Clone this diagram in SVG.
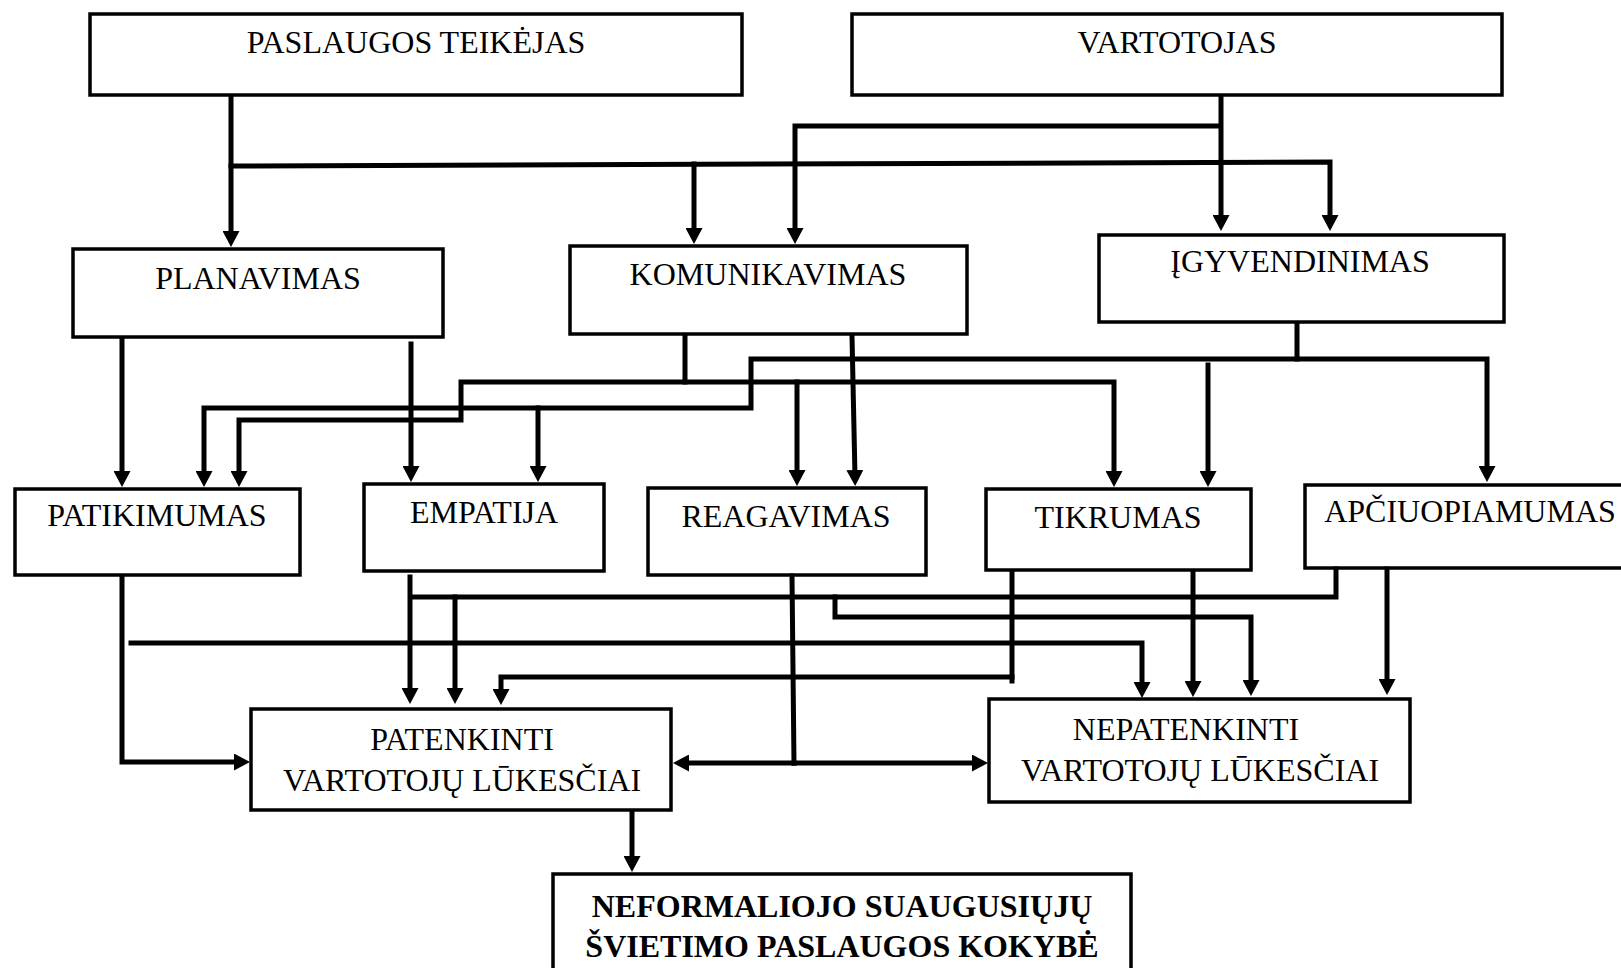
<svg xmlns="http://www.w3.org/2000/svg" width="1621" height="968" viewBox="0 0 1621 968">
<style>
.box{fill:#fff;stroke:#000;stroke-width:3.5}
.t{font-family:"Liberation Serif","Times New Roman",serif;font-size:32px;fill:#000;text-anchor:middle}
.b{font-weight:bold}
.c{fill:none;stroke:#000;stroke-width:5;stroke-linejoin:miter;stroke-linecap:square}
.a{marker-end:url(#ah)}
</style>
<defs>
<marker id="ah" viewBox="0 0 16 17" refX="6" refY="8.5" markerWidth="16" markerHeight="17" markerUnits="userSpaceOnUse" orient="auto">
<path d="M0,0 L16,8.5 L0,17 Z" fill="#000"/>
</marker>
</defs>
<rect width="1621" height="968" fill="#fff"/>
<g id="paslaugos"><rect class="box" x="90" y="14" width="652" height="81"/><text class="t" x="416" y="53">PASLAUGOS TEIKĖJAS</text></g>
<g id="vartotojas"><rect class="box" x="852" y="14" width="650" height="81"/><text class="t" x="1177" y="53">VARTOTOJAS</text></g>
<g id="planavimas"><rect class="box" x="73" y="249" width="370" height="88"/><text class="t" x="258" y="289">PLANAVIMAS</text></g>
<g id="komunikavimas"><rect class="box" x="570" y="246" width="397" height="88"/><text class="t" x="768" y="285">KOMUNIKAVIMAS</text></g>
<g id="igyvendinimas"><rect class="box" x="1099" y="235" width="405" height="87"/><text class="t" x="1300" y="272">ĮGYVENDINIMAS</text></g>
<g id="patikimumas"><rect class="box" x="15" y="489" width="285" height="86"/><text class="t" x="157" y="526">PATIKIMUMAS</text></g>
<g id="empatija"><rect class="box" x="364" y="484" width="240" height="87"/><text class="t" x="484" y="523">EMPATIJA</text></g>
<g id="reagavimas"><rect class="box" x="648" y="488" width="278" height="87"/><text class="t" x="786" y="527">REAGAVIMAS</text></g>
<g id="tikrumas"><rect class="box" x="986" y="489" width="265" height="81"/><text class="t" x="1118" y="528">TIKRUMAS</text></g>
<g id="apciuopiamumas"><rect class="box" x="1305" y="485" width="330" height="83"/><text class="t" x="1470" y="522">APČIUOPIAMUMAS</text></g>
<g id="patenkinti"><rect class="box" x="251" y="709" width="420" height="101"/><text class="t" x="462" y="750">PATENKINTI</text><text class="t" x="462" y="791">VARTOTOJŲ LŪKESČIAI</text></g>
<g id="nepatenkinti"><rect class="box" x="989" y="699" width="421" height="103"/><text class="t" x="1186" y="740">NEPATENKINTI</text><text class="t" x="1200" y="781">VARTOTOJŲ LŪKESČIAI</text></g>
<g id="kokybe"><rect class="box" x="553" y="874" width="578" height="120"/><text class="t b" x="842" y="917">NEFORMALIOJO SUAUGUSIŲJŲ</text><text class="t b" x="842" y="957">ŠVIETIMO PASLAUGOS KOKYBĖ</text></g>
<g id="connectors">
<path class="c a" d="M231,97 V237"/>
<path class="c a" d="M231,166 L1330,162 V221"/>
<path class="c a" d="M694,164 V234"/>
<path class="c a" d="M1221,97 V221"/>
<path class="c a" d="M1219,126 H795 V234"/>
<path class="c a" d="M122,339 V477"/>
<path class="c a" d="M411,344 V472"/>
<path class="c a" d="M685,336 V382 H461 V420 H239 V477"/>
<path class="c a" d="M685,382 H1114 V477"/>
<path class="c a" d="M797,382 V476"/>
<path class="c a" d="M852,336 L855,476"/>
<path class="c a" d="M1297,324 V359 H1487 V472"/>
<path class="c a" d="M1297,359 H751 V408 H204 V477"/>
<path class="c a" d="M538,408 V472"/>
<path class="c a" d="M1208,365 V477"/>
<path class="c a" d="M122,577 V762 H240"/>
<path class="c a" d="M131,643 H1142 V688"/>
<path class="c a" d="M410,577 V694"/>
<path class="c" d="M1336,569 V597 H413"/>
<path class="c a" d="M835,597 V617 H1251 V686"/>
<path class="c a" d="M455,597 V694"/>
<path class="c" d="M792,576 L794,763"/>
<path class="c a" d="M794,763 H683"/>
<path class="c a" d="M794,763 H978"/>
<path class="c" d="M1012,572 V681"/>
<path class="c a" d="M1012,677 H501 V695"/>
<path class="c a" d="M1193,572 V687"/>
<path class="c a" d="M1387,569 V685"/>
<path class="c a" d="M632,812 V862"/>
</g>
</svg>
